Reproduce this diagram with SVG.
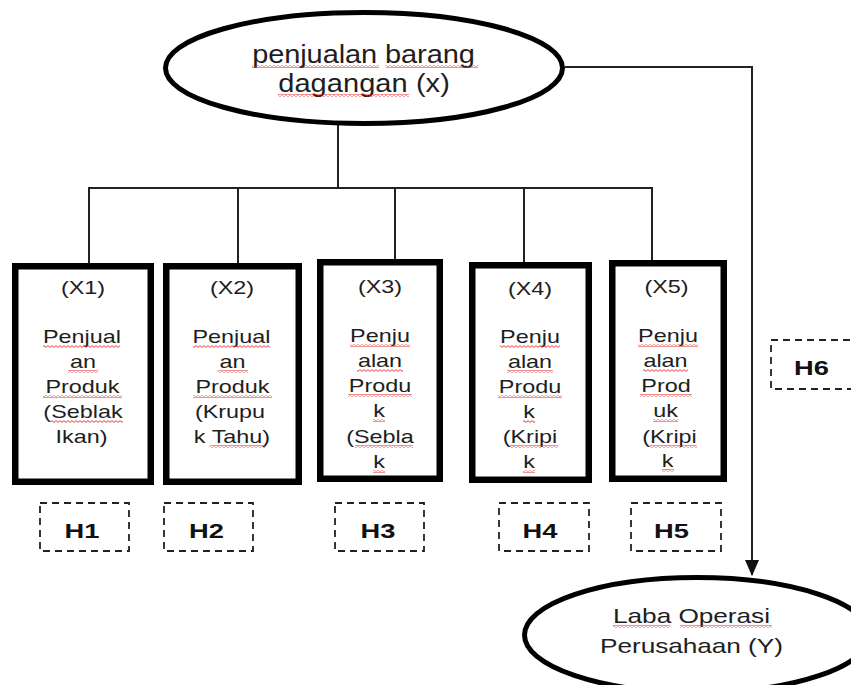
<svg xmlns="http://www.w3.org/2000/svg" width="851" height="685" viewBox="0 0 851 685">
<defs>
<pattern id="sq" width="4" height="3" patternUnits="userSpaceOnUse">
<path d="M0 0.6 L2 2.4 L4 0.6" fill="none" stroke="#e02424" stroke-width="0.9"/>
</pattern>
<marker id="ah" markerWidth="16" markerHeight="14" refX="15" refY="7" orient="auto" markerUnits="userSpaceOnUse">
<path d="M0 0 L16 7 L0 14 Z" fill="#111"/>
</marker>
<style>
.ell{fill:#fff;stroke:#000;stroke-width:5}
.box{fill:#fff;stroke:#000;stroke-width:6.5}
.hb{fill:none;stroke:#222;stroke-width:1.8;stroke-dasharray:7 5}
.ln{fill:none;stroke:#222;stroke-width:2}
text{font-family:"Liberation Sans",Arial,sans-serif;fill:#1e1e1e;text-anchor:middle}
.t1{font-size:25px}
.t2{font-size:21px}
.t3{font-size:18px}
.h{font-size:21px;font-weight:bold;fill:#111}
.s{fill:url(#sq)}
</style>
</defs>
<rect width="851" height="685" fill="#fff"/>

<g id="connectors">
<path class="ln" d="M338 124 V188"/>
<path class="ln" d="M88 188 H653"/>
<path class="ln" d="M89 188 V266"/>
<path class="ln" d="M238 188 V266"/>
<path class="ln" d="M395 188 V262"/>
<path class="ln" d="M524 188 V265"/>
<path class="ln" d="M652 188 V263"/>
<path class="ln" d="M565 67 H752 V575" marker-end="url(#ah)"/>
</g>

<g id="node-x">
<ellipse class="ell" cx="364" cy="68" rx="198.5" ry="55.5"/>
<text class="t1" x="0" y="63" transform="matrix(1.16 0 0 1 363.5 0)" textLength="192" lengthAdjust="spacing">penjualan barang</text>
<text class="t1" x="0" y="92" transform="matrix(1.16 0 0 1 364 0)" textLength="148" lengthAdjust="spacing">dagangan (x)</text>
<rect class="s" x="252" y="65" width="127" height="3"/>
<rect class="s" x="386" y="65" width="92" height="3"/>
<rect class="s" x="278" y="94" width="131" height="3"/>
</g>

<g id="node-x1">
<rect class="box" x="15.25" y="266.25" width="135.5" height="215.5"/>
<text class="t3" x="0" y="294" transform="matrix(1.3 0 0 1 83 0)">(X1)</text>
<text class="t3" x="0" y="343" transform="matrix(1.3 0 0 1 82 0)">Penjual</text>
<text class="t3" x="0" y="368" transform="matrix(1.3 0 0 1 83 0)">an</text>
<text class="t3" x="0" y="393" transform="matrix(1.3 0 0 1 82.5 0)">Produk</text>
<text class="t3" x="0" y="418" transform="matrix(1.3 0 0 1 83 0)">(Seblak</text>
<text class="t3" x="0" y="443" transform="matrix(1.3 0 0 1 81.5 0)">Ikan)</text>
<rect class="s" x="43" y="345" width="77" height="3"/>
<rect class="s" x="68" y="370" width="30" height="3"/>
<rect class="s" x="43" y="395" width="79" height="3"/>
<rect class="s" x="51" y="420" width="72" height="3"/>
</g>

<g id="node-x2">
<rect class="box" x="166.25" y="266.25" width="132.5" height="215.5"/>
<text class="t3" x="0" y="294" transform="matrix(1.3 0 0 1 232 0)">(X2)</text>
<text class="t3" x="0" y="343" transform="matrix(1.3 0 0 1 231.5 0)">Penjual</text>
<text class="t3" x="0" y="368" transform="matrix(1.3 0 0 1 232.5 0)">an</text>
<text class="t3" x="0" y="393" transform="matrix(1.3 0 0 1 232.5 0)">Produk</text>
<text class="t3" x="0" y="418" transform="matrix(1.3 0 0 1 230 0)">(Krupu</text>
<text class="t3" x="0" y="443" transform="matrix(1.3 0 0 1 232 0)">k Tahu)</text>
<rect class="s" x="193" y="345" width="77" height="3"/>
<rect class="s" x="218" y="370" width="30" height="3"/>
<rect class="s" x="193" y="395" width="79" height="3"/>
<rect class="s" x="210" y="445" width="55" height="3"/>
</g>

<g id="node-x3">
<rect class="box" x="320.25" y="262.25" width="119.5" height="216.5"/>
<text class="t3" x="0" y="293" transform="matrix(1.3 0 0 1 380 0)">(X3)</text>
<text class="t3" x="0" y="342" transform="matrix(1.3 0 0 1 380 0)">Penju</text>
<text class="t3" x="0" y="367" transform="matrix(1.3 0 0 1 380 0)">alan</text>
<text class="t3" x="0" y="392" transform="matrix(1.3 0 0 1 380 0)">Produ</text>
<text class="t3" x="0" y="417" transform="matrix(1.3 0 0 1 379 0)">k</text>
<text class="t3" x="0" y="443" transform="matrix(1.3 0 0 1 380 0)">(Sebla</text>
<text class="t3" x="0" y="468" transform="matrix(1.3 0 0 1 379 0)">k</text>
<rect class="s" x="350" y="344" width="60" height="3"/>
<rect class="s" x="357" y="369" width="46" height="3"/>
<rect class="s" x="348" y="394" width="64" height="3"/>
<rect class="s" x="373" y="419" width="12" height="3"/>
<rect class="s" x="355" y="445" width="58" height="3"/>
<rect class="s" x="373" y="470" width="12" height="3"/>
</g>

<g id="node-x4">
<rect class="box" x="472.25" y="265.25" width="116.5" height="214.5"/>
<text class="t3" x="0" y="295" transform="matrix(1.3 0 0 1 530 0)">(X4)</text>
<text class="t3" x="0" y="343" transform="matrix(1.3 0 0 1 530 0)">Penju</text>
<text class="t3" x="0" y="368" transform="matrix(1.3 0 0 1 530 0)">alan</text>
<text class="t3" x="0" y="393" transform="matrix(1.3 0 0 1 530 0)">Produ</text>
<text class="t3" x="0" y="418" transform="matrix(1.3 0 0 1 529 0)">k</text>
<text class="t3" x="0" y="443" transform="matrix(1.3 0 0 1 530 0)">(Kripi</text>
<text class="t3" x="0" y="468" transform="matrix(1.3 0 0 1 529 0)">k</text>
<rect class="s" x="500" y="345" width="60" height="3"/>
<rect class="s" x="507" y="370" width="46" height="3"/>
<rect class="s" x="498" y="395" width="64" height="3"/>
<rect class="s" x="523" y="420" width="12" height="3"/>
<rect class="s" x="510" y="445" width="48" height="3"/>
<rect class="s" x="523" y="470" width="12" height="3"/>
</g>

<g id="node-x5">
<rect class="box" x="612.25" y="263.25" width="111.5" height="215.5"/>
<text class="t3" x="0" y="293" transform="matrix(1.3 0 0 1 666.5 0)">(X5)</text>
<text class="t3" x="0" y="342" transform="matrix(1.3 0 0 1 668 0)">Penju</text>
<text class="t3" x="0" y="367" transform="matrix(1.3 0 0 1 665.5 0)">alan</text>
<text class="t3" x="0" y="392" transform="matrix(1.3 0 0 1 666 0)">Prod</text>
<text class="t3" x="0" y="417" transform="matrix(1.3 0 0 1 665.5 0)">uk</text>
<text class="t3" x="0" y="443" transform="matrix(1.3 0 0 1 669.5 0)">(Kripi</text>
<text class="t3" x="0" y="467" transform="matrix(1.3 0 0 1 667.5 0)">k</text>
<rect class="s" x="638" y="344" width="60" height="3"/>
<rect class="s" x="643" y="369" width="45" height="3"/>
<rect class="s" x="640" y="394" width="52" height="3"/>
<rect class="s" x="653" y="419" width="25" height="3"/>
<rect class="s" x="650" y="445" width="47" height="3"/>
<rect class="s" x="662" y="469" width="12" height="3"/>
</g>

<g id="node-y">
<ellipse class="ell" cx="697" cy="635" rx="172.5" ry="57.5"/>
<text class="t2" x="0" y="623" transform="matrix(1.25 0 0 1 691.5 0)" textLength="125.6" lengthAdjust="spacing">Laba Operasi</text>
<text class="t2" x="0" y="653" transform="matrix(1.25 0 0 1 691.5 0)" textLength="146.4" lengthAdjust="spacing">Perusahaan (Y)</text>
<rect class="s" x="613" y="625" width="57" height="3"/>
<rect class="s" x="680" y="625" width="92" height="3"/>
</g>

<g id="h1"><rect class="hb" x="40" y="503" width="89" height="48"/><text class="h" x="0" y="538" transform="matrix(1.3 0 0 1 82 0)">H1</text></g>
<g id="h2"><rect class="hb" x="164" y="503" width="89" height="48"/><text class="h" x="0" y="538" transform="matrix(1.3 0 0 1 206.5 0)">H2</text></g>
<g id="h3"><rect class="hb" x="335" y="503" width="89" height="48"/><text class="h" x="0" y="538" transform="matrix(1.3 0 0 1 378 0)">H3</text></g>
<g id="h4"><rect class="hb" x="499" y="503" width="90" height="48"/><text class="h" x="0" y="538" transform="matrix(1.3 0 0 1 540 0)">H4</text></g>
<g id="h5"><rect class="hb" x="631" y="503" width="90" height="48"/><text class="h" x="0" y="538" transform="matrix(1.3 0 0 1 671.5 0)">H5</text></g>
<g id="h6"><rect class="hb" x="771" y="340" width="89" height="49"/><text class="h" x="0" y="375" transform="matrix(1.3 0 0 1 811.5 0)">H6</text></g>
</svg>
